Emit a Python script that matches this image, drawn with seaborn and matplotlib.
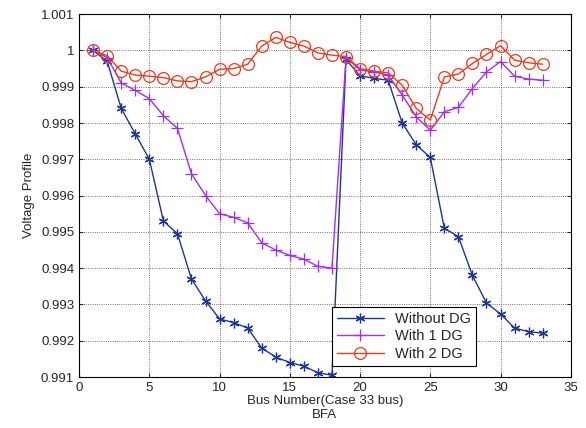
import matplotlib
matplotlib.use("Agg")
import matplotlib.pyplot as plt
import numpy as np
import pandas as pd
import seaborn as sns

# bus numbers 1..33
buses = list(range(1, 34))

without_dg = [1.0000, 0.9997, 0.9984, 0.9977, 0.9970, 0.9953, 0.99495, 0.9937, 0.9931, 0.9926,
              0.9925, 0.99235, 0.9918, 0.99155, 0.9914, 0.9913, 0.99112, 0.99105,
              0.99975, 0.9993, 0.99923, 0.99918, 0.9980, 0.9974, 0.99705,
              0.9951, 0.99487, 0.9938, 0.99304, 0.99274, 0.99235, 0.99225, 0.99221]

with_1dg = [1.0000, 0.9998, 0.9991, 0.9989, 0.99867, 0.9982, 0.99785, 0.9966, 0.9960, 0.9955,
            0.9954, 0.99525, 0.9947, 0.9945, 0.99435, 0.99425, 0.99405, 0.9940,
            0.9998, 0.99946, 0.99941, 0.99932, 0.99877, 0.99817, 0.9978,
            0.99831, 0.99843, 0.99895, 0.99941, 0.99969, 0.99929, 0.99921, 0.99918]

with_2dg = [1.0000, 0.99985, 0.99943, 0.99932, 0.99929, 0.99925, 0.99916, 0.99914, 0.99927, 0.99948,
            0.9995, 0.99962, 1.00012, 1.00036, 1.00022, 1.00012, 0.99993, 0.99987,
            0.99983, 0.9995, 0.99943, 0.99938, 0.99904, 0.9984, 0.99808,
            0.99927, 0.99935, 0.99964, 0.99989, 1.00013, 0.99973, 0.99966, 0.99962]

series_names = ["Without DG", "With 1 DG", "With 2 DG"]
colors = ["#1f3596", "#9b30ff", "#ee3b1f"]
markers = [(6, 2, 0), "+", "o"]
sizes = [7, 9, 8.5]

sns.set_style("ticks")
plt.rcParams["font.family"] = ["Liberation Sans", "DejaVu Sans"]

fig, ax = plt.subplots(figsize=(5.86, 4.28), dpi=100)
fig.subplots_adjust(left=0.135, right=0.974, top=0.967, bottom=0.119)

for name, vals, c, m, s in zip(series_names, [without_dg, with_1dg, with_2dg], colors, markers, sizes):
    df = pd.DataFrame({"bus": buses, "v": vals})
    sns.lineplot(data=df, x="bus", y="v", ax=ax, color=c, marker=m, markersize=s,
                 markeredgecolor=c, markerfacecolor="none", markeredgewidth=0.9,
                 linewidth=1.0, label=name)

ax.set_xlim(0, 35)
ax.set_ylim(0.991, 1.001)
ax.set_xticks(np.arange(0, 36, 5))
yt = np.round(np.arange(0.991, 1.0011, 0.001), 3)
ax.set_yticks(yt)
ax.set_yticklabels([f"{v:g}" for v in yt])
ax.grid(True, color="#444444", linestyle=":", linewidth=0.6)
ax.tick_params(direction="in", top=True, right=True, labelsize=9.5, length=3)
for sp in ax.spines.values():
    sp.set_visible(True)
    sp.set_color("black")
    sp.set_linewidth(0.8)

ax.set_xlabel("Bus Number(Case 33 bus)\nBFA", fontsize=9.5, labelpad=1)
ax.set_ylabel("Voltage Profile", fontsize=9.5)

leg = ax.legend(loc="lower right", bbox_to_anchor=(0.823, 0.01), fancybox=False,
                edgecolor="black", framealpha=1, fontsize=10.5, handlelength=3.2,
                borderpad=0.35, labelspacing=0.25)
leg.get_frame().set_linewidth(0.8)

fig.savefig("out.png", dpi=100)
